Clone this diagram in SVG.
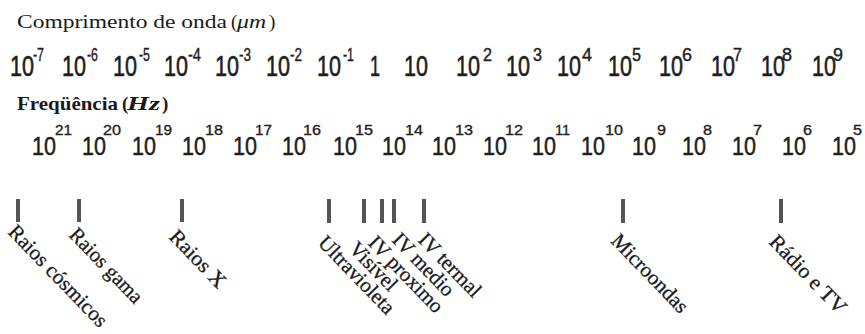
<svg xmlns="http://www.w3.org/2000/svg" width="865" height="334" viewBox="0 0 865 334">
<style>
  .ttl { font-family: "Liberation Serif", "Times New Roman", serif; font-size: 19px; fill: #1a1a1a; }
  .ttlb { font-family: "Liberation Serif", "Times New Roman", serif; font-size: 19px; font-weight: bold; fill: #1a1a1a; }
  .it { font-style: italic; }
  .wl { font-family: "Liberation Sans", Arial, sans-serif; font-size: 29px; fill: #1e1e1e; stroke: #1e1e1e; stroke-width: 0.6px; }
  .wx { font-family: "Liberation Sans", Arial, sans-serif; font-size: 18px; fill: #1e1e1e; stroke: #1e1e1e; stroke-width: 0.4px; }
  .fq { font-family: "Liberation Sans", Arial, sans-serif; font-size: 26px; fill: #1e1e1e; stroke: #1e1e1e; stroke-width: 0.5px; }
  .fx { font-family: "Liberation Sans", Arial, sans-serif; font-size: 15px; fill: #1e1e1e; stroke: #1e1e1e; stroke-width: 0.35px; }
  .bar { fill: #555555; }
  .lbl { font-family: "Liberation Serif", "Times New Roman", serif; font-size: 21px; fill: #1a1a1a; stroke: #1a1a1a; stroke-width: 0.3px; }
</style>
<rect width="865" height="334" fill="#ffffff"/>

<g id="titulo-comprimento">
  <text class="ttl" x="17" y="28" textLength="210" lengthAdjust="spacingAndGlyphs">Comprimento de onda</text>
  <text class="ttl" x="231" y="28">(</text>
  <text class="ttl it" x="237" y="28" textLength="29" lengthAdjust="spacingAndGlyphs">μm</text>
  <text class="ttl" x="269" y="28">)</text>
</g>

<g id="escala-comprimento">
  <text class="wl" x="10" y="76" textLength="24" lengthAdjust="spacingAndGlyphs">10</text><text class="wx" x="33" y="61" textLength="11" lengthAdjust="spacingAndGlyphs">-7</text>
  <text class="wl" x="62" y="76" textLength="24" lengthAdjust="spacingAndGlyphs">10</text><text class="wx" x="87" y="61" textLength="11" lengthAdjust="spacingAndGlyphs">-6</text>
  <text class="wl" x="113" y="76" textLength="24" lengthAdjust="spacingAndGlyphs">10</text><text class="wx" x="139" y="61" textLength="11" lengthAdjust="spacingAndGlyphs">-5</text>
  <text class="wl" x="164" y="76" textLength="24" lengthAdjust="spacingAndGlyphs">10</text><text class="wx" x="188" y="61" textLength="13" lengthAdjust="spacingAndGlyphs">-4</text>
  <text class="wl" x="215" y="76" textLength="24" lengthAdjust="spacingAndGlyphs">10</text><text class="wx" x="239" y="61" textLength="12" lengthAdjust="spacingAndGlyphs">-3</text>
  <text class="wl" x="266" y="76" textLength="24" lengthAdjust="spacingAndGlyphs">10</text><text class="wx" x="290" y="61" textLength="12" lengthAdjust="spacingAndGlyphs">-2</text>
  <text class="wl" x="317" y="76" textLength="24" lengthAdjust="spacingAndGlyphs">10</text><text class="wx" x="343" y="61" textLength="11" lengthAdjust="spacingAndGlyphs">-1</text>
  <text class="wl" x="370" y="76" textLength="10" lengthAdjust="spacingAndGlyphs">1</text>
  <text class="wl" x="404" y="76" textLength="24" lengthAdjust="spacingAndGlyphs">10</text>
  <text class="wl" x="456" y="76" textLength="24" lengthAdjust="spacingAndGlyphs">10</text><text class="wx" x="483" y="61" textLength="9" lengthAdjust="spacingAndGlyphs">2</text>
  <text class="wl" x="506" y="76" textLength="24" lengthAdjust="spacingAndGlyphs">10</text><text class="wx" x="533" y="61" textLength="9" lengthAdjust="spacingAndGlyphs">3</text>
  <text class="wl" x="557" y="76" textLength="24" lengthAdjust="spacingAndGlyphs">10</text><text class="wx" x="582" y="61" textLength="10" lengthAdjust="spacingAndGlyphs">4</text>
  <text class="wl" x="608" y="76" textLength="24" lengthAdjust="spacingAndGlyphs">10</text><text class="wx" x="632" y="61" textLength="9" lengthAdjust="spacingAndGlyphs">5</text>
  <text class="wl" x="659" y="76" textLength="24" lengthAdjust="spacingAndGlyphs">10</text><text class="wx" x="682" y="61" textLength="10" lengthAdjust="spacingAndGlyphs">6</text>
  <text class="wl" x="711" y="76" textLength="24" lengthAdjust="spacingAndGlyphs">10</text><text class="wx" x="733" y="61" textLength="9" lengthAdjust="spacingAndGlyphs">7</text>
  <text class="wl" x="761" y="76" textLength="24" lengthAdjust="spacingAndGlyphs">10</text><text class="wx" x="782" y="61" textLength="10" lengthAdjust="spacingAndGlyphs">8</text>
  <text class="wl" x="812" y="76" textLength="24" lengthAdjust="spacingAndGlyphs">10</text><text class="wx" x="833" y="61" textLength="10" lengthAdjust="spacingAndGlyphs">9</text>
</g>

<g id="titulo-frequencia">
  <text class="ttlb" x="17" y="110" textLength="101" lengthAdjust="spacingAndGlyphs">Freqüência</text>
  <text class="ttlb" x="122" y="110">(</text>
  <text class="ttlb it" x="127" y="110" textLength="33" lengthAdjust="spacingAndGlyphs">Hz</text>
  <text class="ttlb" x="162" y="110">)</text>
</g>

<g id="escala-frequencia">
  <text class="fq" x="32" y="155" textLength="24" lengthAdjust="spacingAndGlyphs">10</text><text class="fx" x="55" y="135" textLength="17" lengthAdjust="spacingAndGlyphs">21</text>
  <text class="fq" x="82" y="155" textLength="24" lengthAdjust="spacingAndGlyphs">10</text><text class="fx" x="103" y="135" textLength="18" lengthAdjust="spacingAndGlyphs">20</text>
  <text class="fq" x="132" y="155" textLength="24" lengthAdjust="spacingAndGlyphs">10</text><text class="fx" x="155" y="135" textLength="17" lengthAdjust="spacingAndGlyphs">19</text>
  <text class="fq" x="182" y="155" textLength="24" lengthAdjust="spacingAndGlyphs">10</text><text class="fx" x="205" y="135" textLength="18" lengthAdjust="spacingAndGlyphs">18</text>
  <text class="fq" x="233" y="155" textLength="24" lengthAdjust="spacingAndGlyphs">10</text><text class="fx" x="255" y="135" textLength="17" lengthAdjust="spacingAndGlyphs">17</text>
  <text class="fq" x="282" y="155" textLength="24" lengthAdjust="spacingAndGlyphs">10</text><text class="fx" x="303" y="135" textLength="18" lengthAdjust="spacingAndGlyphs">16</text>
  <text class="fq" x="333" y="155" textLength="24" lengthAdjust="spacingAndGlyphs">10</text><text class="fx" x="355" y="135" textLength="18" lengthAdjust="spacingAndGlyphs">15</text>
  <text class="fq" x="382" y="155" textLength="24" lengthAdjust="spacingAndGlyphs">10</text><text class="fx" x="405" y="135" textLength="18" lengthAdjust="spacingAndGlyphs">14</text>
  <text class="fq" x="432" y="155" textLength="24" lengthAdjust="spacingAndGlyphs">10</text><text class="fx" x="455" y="135" textLength="18" lengthAdjust="spacingAndGlyphs">13</text>
  <text class="fq" x="483" y="155" textLength="24" lengthAdjust="spacingAndGlyphs">10</text><text class="fx" x="505" y="135" textLength="18" lengthAdjust="spacingAndGlyphs">12</text>
  <text class="fq" x="532" y="155" textLength="24" lengthAdjust="spacingAndGlyphs">10</text><text class="fx" x="555" y="135" textLength="15" lengthAdjust="spacingAndGlyphs">11</text>
  <text class="fq" x="581" y="155" textLength="24" lengthAdjust="spacingAndGlyphs">10</text><text class="fx" x="605" y="135" textLength="18" lengthAdjust="spacingAndGlyphs">10</text>
  <text class="fq" x="632" y="155" textLength="24" lengthAdjust="spacingAndGlyphs">10</text><text class="fx" x="657" y="135" textLength="9" lengthAdjust="spacingAndGlyphs">9</text>
  <text class="fq" x="682" y="155" textLength="24" lengthAdjust="spacingAndGlyphs">10</text><text class="fx" x="703" y="135" textLength="9" lengthAdjust="spacingAndGlyphs">8</text>
  <text class="fq" x="732" y="155" textLength="24" lengthAdjust="spacingAndGlyphs">10</text><text class="fx" x="753" y="135" textLength="9" lengthAdjust="spacingAndGlyphs">7</text>
  <text class="fq" x="782" y="155" textLength="24" lengthAdjust="spacingAndGlyphs">10</text><text class="fx" x="803" y="135" textLength="9" lengthAdjust="spacingAndGlyphs">6</text>
  <text class="fq" x="832" y="155" textLength="24" lengthAdjust="spacingAndGlyphs">10</text><text class="fx" x="853" y="135" textLength="9" lengthAdjust="spacingAndGlyphs">5</text>
</g>

<g id="raios-cosmicos">
  <rect class="bar" x="16" y="199" width="4" height="23"/>
  <text class="lbl" transform="translate(17,223) rotate(46)" x="0" y="14" textLength="133" lengthAdjust="spacingAndGlyphs">Raios cósmicos</text>
</g>
<g id="raios-gama">
  <rect class="bar" x="77" y="199" width="4" height="23"/>
  <text class="lbl" transform="translate(78,226) rotate(46)" x="0" y="14" textLength="96" lengthAdjust="spacingAndGlyphs">Raios gama</text>
</g>
<g id="raios-x">
  <rect class="bar" x="180" y="199" width="4" height="23"/>
  <text class="lbl" transform="translate(178,228) rotate(46)" x="0" y="14" textLength="72" lengthAdjust="spacingAndGlyphs">Raios X</text>
</g>
<g id="ultravioleta">
  <rect class="bar" x="327" y="199" width="4" height="24"/>
  <text class="lbl" transform="translate(327,234) rotate(46)" x="0" y="14" textLength="100" lengthAdjust="spacingAndGlyphs">Ultravioleta</text>
</g>
<g id="visivel">
  <rect class="bar" x="362" y="199" width="4" height="24"/>
  <text class="lbl" transform="translate(358,240) rotate(46)" x="0" y="14">Visível</text>
</g>
<g id="iv-proximo">
  <rect class="bar" x="380" y="199" width="4" height="24"/>
  <text class="lbl" transform="translate(377,234) rotate(46)" x="0" y="14">IV proximo</text>
</g>
<g id="iv-medio">
  <rect class="bar" x="392" y="199" width="4" height="24"/>
  <text class="lbl" transform="translate(401,231) rotate(46)" x="0" y="14">IV medio</text>
</g>
<g id="iv-termal">
  <rect class="bar" x="422" y="199" width="4" height="24"/>
  <text class="lbl" transform="translate(427,231) rotate(46)" x="0" y="14">IV termal</text>
</g>
<g id="microondas">
  <rect class="bar" x="621" y="199" width="4" height="24"/>
  <text class="lbl" transform="translate(620,232) rotate(46)" x="0" y="14" textLength="101" lengthAdjust="spacingAndGlyphs">Microondas</text>
</g>
<g id="radio-tv">
  <rect class="bar" x="779" y="199" width="4" height="24"/>
  <text class="lbl" transform="translate(778,233) rotate(46)" x="0" y="14" textLength="101" lengthAdjust="spacingAndGlyphs">Rádio e TV</text>
</g>
</svg>
